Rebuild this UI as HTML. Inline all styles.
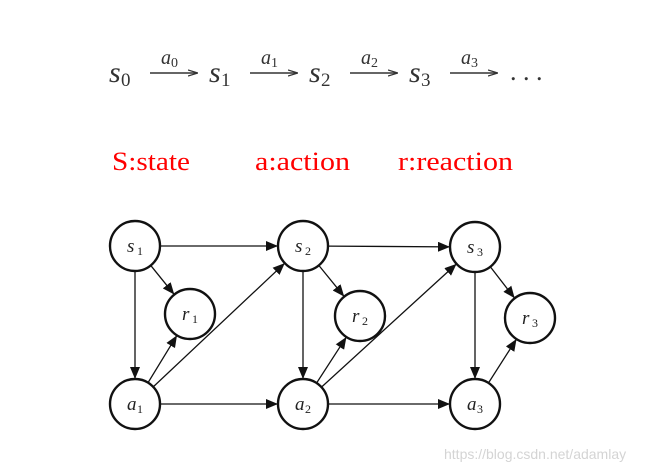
<!DOCTYPE html>
<html><head><meta charset="utf-8"><style>
html,body{margin:0;padding:0;background:#fff;width:656px;height:474px;overflow:hidden}
svg{display:block}
</style></head><body>
<svg id="s" width="656" height="474" viewBox="0 0 656 474" xmlns="http://www.w3.org/2000/svg">
<defs>
<marker id="ah" markerWidth="12" markerHeight="10" refX="11" refY="5" orient="auto" markerUnits="userSpaceOnUse">
<path d="M0,0 L12,5 L0,10 z" fill="#111"/>
</marker>
<marker id="ah2" markerWidth="10" markerHeight="8" refX="9" refY="4" orient="auto" markerUnits="userSpaceOnUse">
<path d="M0,1 L10,4 L0,7" fill="none" stroke="#333" stroke-width="1.2"/>
</marker>
</defs>
<g font-family="Liberation Serif, serif" fill="#333">
<text x="109" y="82" font-size="30" font-style="italic">s</text><text x="121" y="86" font-size="19">0</text>
<text x="209" y="82" font-size="30" font-style="italic">s</text><text x="221" y="86" font-size="19">1</text>
<text x="309" y="82" font-size="30" font-style="italic">s</text><text x="321" y="86" font-size="19">2</text>
<text x="409" y="82" font-size="30" font-style="italic">s</text><text x="421" y="86" font-size="19">3</text>
<text x="510" y="80" font-size="26">. . .</text>
<text x="161" y="64" font-size="20" font-style="italic">a</text><text x="171" y="67" font-size="14">0</text>
<text x="261" y="64" font-size="20" font-style="italic">a</text><text x="271" y="67" font-size="14">1</text>
<text x="361" y="64" font-size="20" font-style="italic">a</text><text x="371" y="67" font-size="14">2</text>
<text x="461" y="64" font-size="20" font-style="italic">a</text><text x="471" y="67" font-size="14">3</text>
</g>
<g stroke="#333" stroke-width="1.4" marker-end="url(#ah2)">
<line x1="150" y1="73" x2="197" y2="73"/>
<line x1="250" y1="73" x2="297" y2="73"/>
<line x1="350" y1="73" x2="397" y2="73"/>
<line x1="450" y1="73" x2="497" y2="73"/>
</g>
<g font-family="Liberation Serif, serif" fill="#ff0000" font-size="26">
<text x="112" y="170" textLength="78" lengthAdjust="spacingAndGlyphs">S:state</text>
<text x="255" y="170" textLength="95" lengthAdjust="spacingAndGlyphs">a:action</text>
<text x="398" y="170" textLength="115" lengthAdjust="spacingAndGlyphs">r:reaction</text>
</g>
<g id="edges" stroke="#111" stroke-width="1.3" marker-end="url(#ah)"></g>
<g id="nodes"></g>
<text x="444" y="459" font-family="Liberation Sans, sans-serif" font-size="14" fill="#d4d4d4">https://blog.csdn.net/adamlay</text>
</svg>
<script>
var N={s1:[135,246,'s','1'],a1:[135,404,'a','1'],r1:[190,314,'r','1'],
s2:[303,246,'s','2'],a2:[303,404,'a','2'],r2:[360,316,'r','2'],
s3:[475,247,'s','3'],a3:[475,404,'a','3'],r3:[530,318,'r','3']};
var R=25,ns='http://www.w3.org/2000/svg';
var E=[['s1','s2'],['s2','s3'],['s1','r1'],['s2','r2'],['s3','r3'],['s1','a1'],['s2','a2'],['s3','a3'],
['a1','r1'],['a2','r2'],['a3','r3'],['a1','s2'],['a2','s3'],['a1','a2'],['a2','a3']];
var eg=document.getElementById('edges'),ng=document.getElementById('nodes');
E.forEach(function(e){var a=N[e[0]],b=N[e[1]];var dx=b[0]-a[0],dy=b[1]-a[1],d=Math.hypot(dx,dy);
var l=document.createElementNS(ns,'line');
l.setAttribute('x1',a[0]+dx/d*R);l.setAttribute('y1',a[1]+dy/d*R);
l.setAttribute('x2',b[0]-dx/d*(R+1));l.setAttribute('y2',b[1]-dy/d*(R+1));eg.appendChild(l);});
for(var k in N){var n=N[k];var c=document.createElementNS(ns,'circle');
c.setAttribute('cx',n[0]);c.setAttribute('cy',n[1]);c.setAttribute('r',R);
c.setAttribute('fill','#fff');c.setAttribute('stroke','#111');c.setAttribute('stroke-width','2.4');ng.appendChild(c);
var t=document.createElementNS(ns,'text');t.setAttribute('x',n[0]-8);t.setAttribute('y',n[1]+6);
t.setAttribute('font-family','Liberation Serif, serif');t.setAttribute('font-style','italic');t.setAttribute('font-size','19');t.setAttribute('fill','#222');
t.textContent=n[2];ng.appendChild(t);
var u=document.createElementNS(ns,'text');u.setAttribute('x',n[0]+2);u.setAttribute('y',n[1]+9);
u.setAttribute('font-family','Liberation Serif, serif');u.setAttribute('font-size','12');u.setAttribute('fill','#222');
u.textContent=n[3];ng.appendChild(u);}
</script>
</body></html>
